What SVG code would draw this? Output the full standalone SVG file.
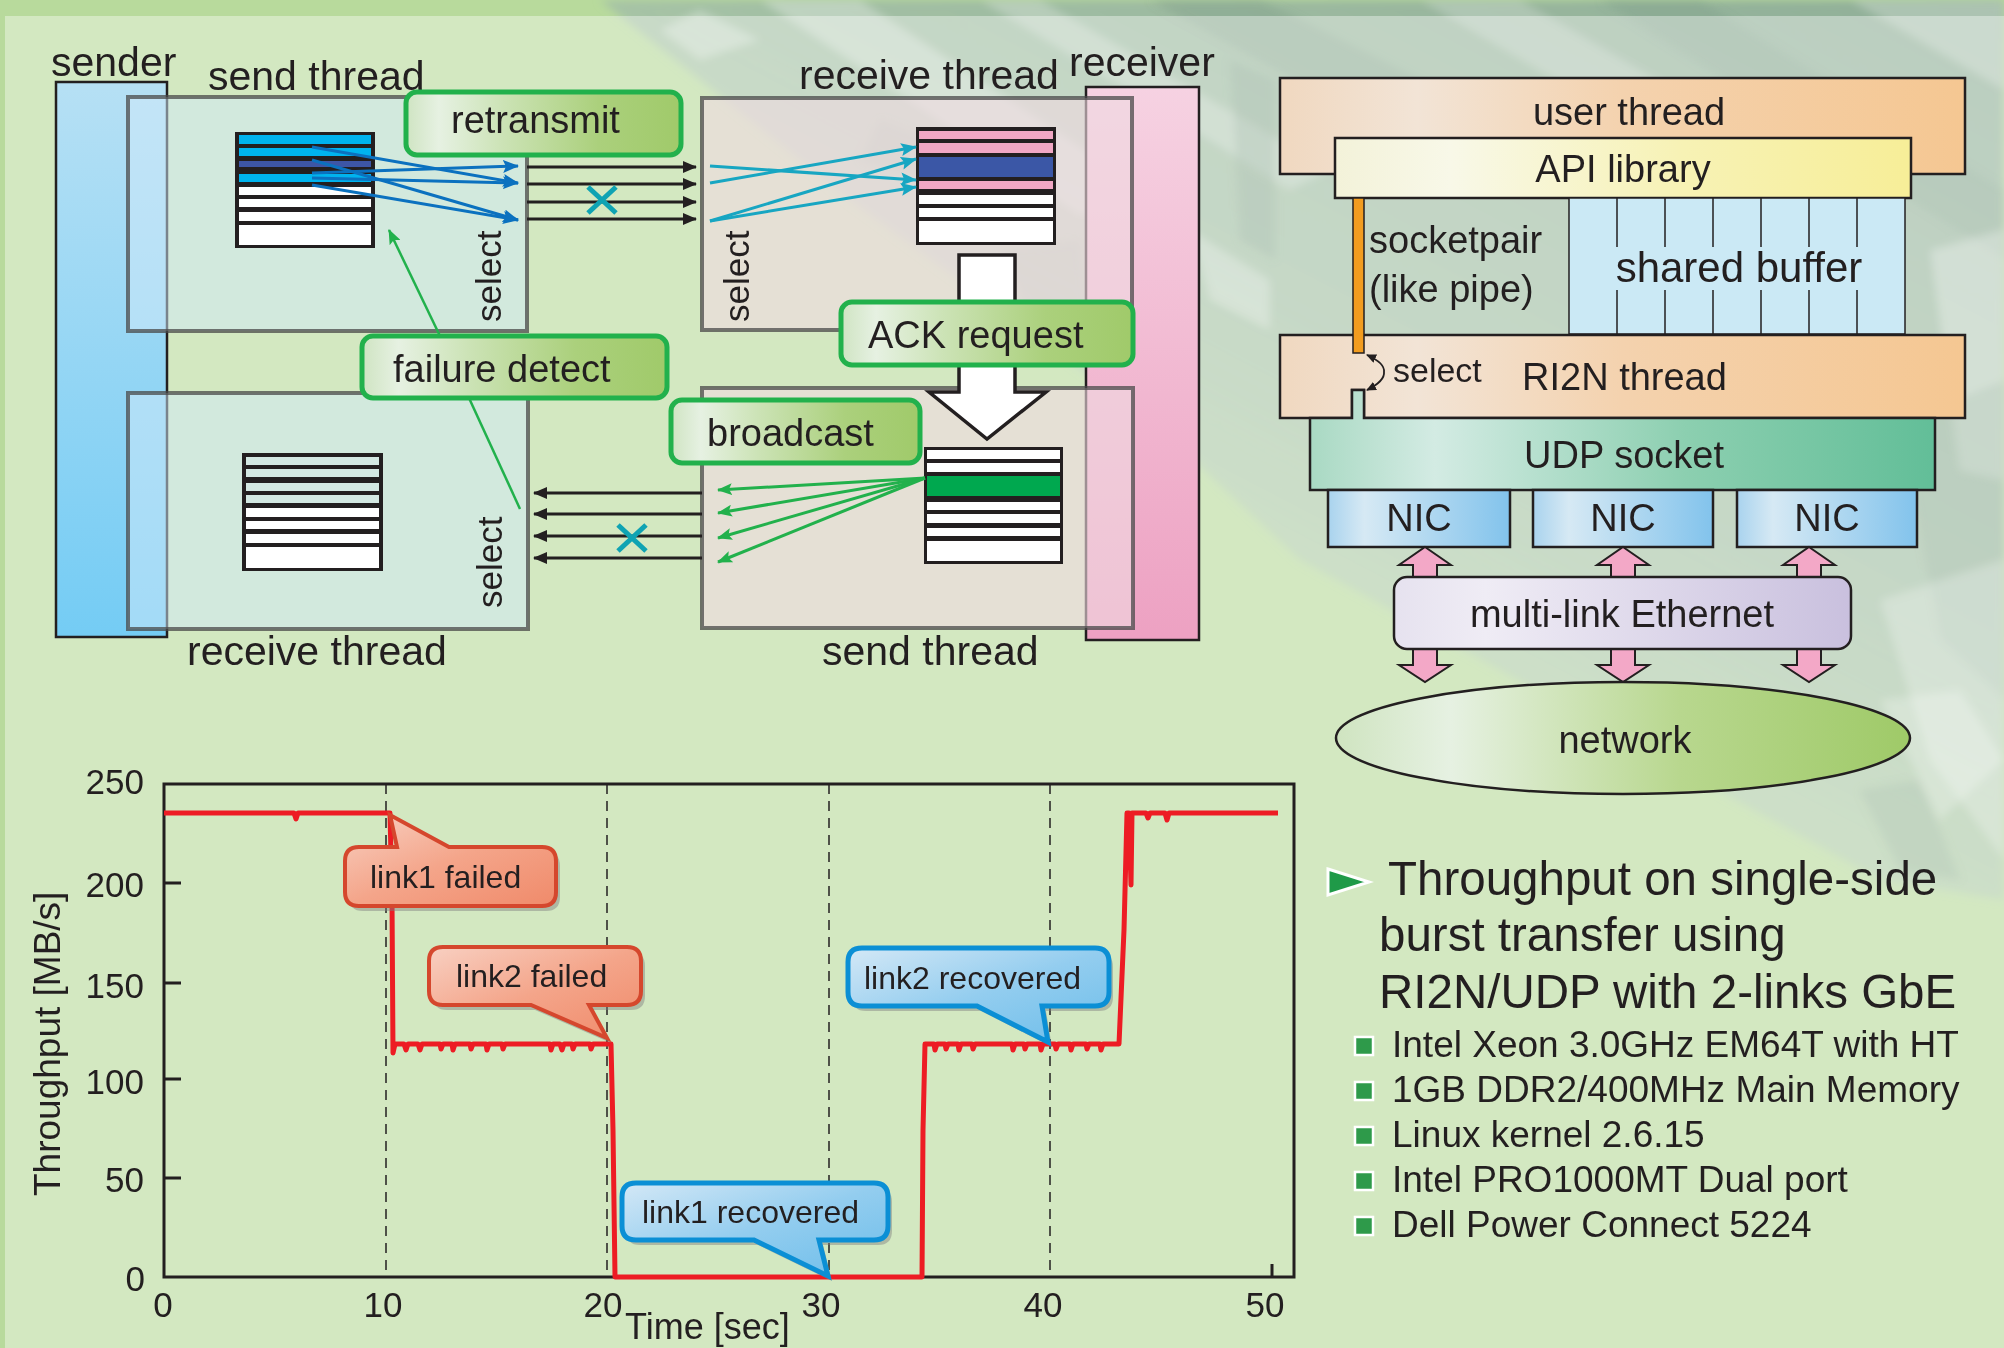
<svg xmlns="http://www.w3.org/2000/svg" width="2004" height="1348" viewBox="0 0 2004 1348">
<style>
  text { font-family: "Liberation Sans", Arial, Helvetica, sans-serif; fill: #231f20; }
  .lbl { font-size: 41px; }
  .tag { font-size: 38px; }
  .sel { font-size: 35px; }
  .arch { font-size: 38px; }
  .tick { font-size: 35px; }
  .call { font-size: 32px; }
  .head { font-size: 47.5px; }
  .item { font-size: 37px; }
  .thrB { fill: #d2e9f9; fill-opacity: .5; stroke: #4a4a4a; stroke-opacity: .75; stroke-width: 4; }
  .thrP { fill: #f0dae1; fill-opacity: .6; stroke: #4a4a4a; stroke-opacity: .75; stroke-width: 4; }
  .gbox { fill: url(#gGreen); stroke: #22b14c; stroke-width: 5; }
  .edge { stroke: #231f20; stroke-width: 2.5; }
  .wireL { fill: none; stroke: #231f20; stroke-width: 3; marker-end: url(#mBlack); }
  .blue { fill: none; stroke: #0b71bf; stroke-width: 3; marker-end: url(#mBlue); }
  .teal { fill: none; stroke: #17a6c2; stroke-width: 3; marker-end: url(#mTeal); }
  .grn { fill: none; stroke: #22b14c; stroke-width: 3; marker-end: url(#mGreen); }
  .xm { fill: none; stroke: #0fa3b3; stroke-width: 5; }
  .pk { fill: #f3a8c7; stroke: #231f20; stroke-width: 2; }
  .dash { stroke: #231f20; stroke-width: 1.5; stroke-dasharray: 10 7; }
  .red { fill: none; stroke: #ed1c24; stroke-width: 5; stroke-linejoin: round; }
  .cR { fill: url(#gRed); stroke: #d5472d; stroke-width: 4; }
  .cB { fill: url(#gBlue); stroke: #0b8fd5; stroke-width: 5; }
  .shadow { fill: #7f7f7f; opacity: .45; }
  .lite { fill: #ffffff; }
  .dark { fill: #7c9c86; }
</style>
<defs>
  <linearGradient id="gGreen" x1="0" y1="0" x2="1" y2="0">
    <stop offset="0" stop-color="#cfe4c2"/>
    <stop offset="0.12" stop-color="#e6f1e2"/>
    <stop offset="0.35" stop-color="#cce3b6"/>
    <stop offset="0.7" stop-color="#abd07c"/>
    <stop offset="1" stop-color="#a0ca6a"/>
  </linearGradient>
  <linearGradient id="gSender" x1="0" y1="0" x2="0" y2="1">
    <stop offset="0" stop-color="#b6e0f4"/>
    <stop offset="1" stop-color="#74ccf4"/>
  </linearGradient>
  <linearGradient id="gReceiver" x1="0" y1="0" x2="0" y2="1">
    <stop offset="0" stop-color="#f6d2e2"/>
    <stop offset="1" stop-color="#eda1c2"/>
  </linearGradient>
  <linearGradient id="gPeach" x1="0" y1="0" x2="1" y2="0">
    <stop offset="0" stop-color="#f0d8c0"/>
    <stop offset="0.2" stop-color="#f2e4d6"/>
    <stop offset="0.5" stop-color="#f4d2ae"/>
    <stop offset="1" stop-color="#f5c792"/>
  </linearGradient>
  <linearGradient id="gYellow" x1="0" y1="0" x2="1" y2="0">
    <stop offset="0" stop-color="#f3f2d9"/>
    <stop offset="0.2" stop-color="#f8f8e8"/>
    <stop offset="0.6" stop-color="#f7f2b5"/>
    <stop offset="1" stop-color="#f7ee98"/>
  </linearGradient>
  <linearGradient id="gTeal" x1="0" y1="0" x2="1" y2="0">
    <stop offset="0" stop-color="#a9d9c3"/>
    <stop offset="0.2" stop-color="#d3ebe3"/>
    <stop offset="0.6" stop-color="#8ccfb0"/>
    <stop offset="1" stop-color="#62be98"/>
  </linearGradient>
  <linearGradient id="gNic" x1="0" y1="0" x2="1" y2="0">
    <stop offset="0" stop-color="#a9d3ee"/>
    <stop offset="0.2" stop-color="#d6e9f4"/>
    <stop offset="1" stop-color="#82c3ec"/>
  </linearGradient>
  <linearGradient id="gLav" x1="0" y1="0" x2="1" y2="0">
    <stop offset="0" stop-color="#e6e2ef"/>
    <stop offset="0.2" stop-color="#efecf5"/>
    <stop offset="1" stop-color="#c9c0de"/>
  </linearGradient>
  <linearGradient id="gNet" x1="0" y1="0" x2="1" y2="0">
    <stop offset="0" stop-color="#cfe4c0"/>
    <stop offset="0.2" stop-color="#e6f1e2"/>
    <stop offset="0.6" stop-color="#b8d78e"/>
    <stop offset="1" stop-color="#9fca68"/>
  </linearGradient>
  <linearGradient id="gRed" x1="0" y1="0" x2="1" y2="1">
    <stop offset="0" stop-color="#f8d0c2"/>
    <stop offset="0.5" stop-color="#f4a58a"/>
    <stop offset="1" stop-color="#f08a6a"/>
  </linearGradient>
  <linearGradient id="gBlue" x1="0" y1="0" x2="1" y2="1">
    <stop offset="0" stop-color="#d4e8f6"/>
    <stop offset="0.5" stop-color="#93cdef"/>
    <stop offset="1" stop-color="#6cbdea"/>
  </linearGradient>
  <linearGradient id="gTex" x1="1" y1="0" x2="0.35" y2="0.8">
    <stop offset="0" stop-color="#8dac97" stop-opacity="0.95"/>
    <stop offset="0.55" stop-color="#9fbba6" stop-opacity="0.85"/>
    <stop offset="1" stop-color="#b3cdb1" stop-opacity="0.45"/>
  </linearGradient>
  <filter id="soft" x="-5%" y="-5%" width="110%" height="110%">
    <feGaussianBlur stdDeviation="4"/>
  </filter>
  <marker id="mBlack" markerUnits="userSpaceOnUse" markerWidth="14" markerHeight="12" refX="13" refY="6" orient="auto">
    <path d="M0,0 L14,6 L0,12 Z" fill="#231f20"/>
  </marker>
  <marker id="mBlue" markerUnits="userSpaceOnUse" markerWidth="16" markerHeight="13" refX="15" refY="6.5" orient="auto">
    <path d="M0,0 L16,6.5 L0,13 L3,6.5 Z" fill="#0b71bf"/>
  </marker>
  <marker id="mTeal" markerUnits="userSpaceOnUse" markerWidth="16" markerHeight="13" refX="15" refY="6.5" orient="auto">
    <path d="M0,0 L16,6.5 L0,13 L3,6.5 Z" fill="#17a6c2"/>
  </marker>
  <marker id="mGreen" markerUnits="userSpaceOnUse" markerWidth="15" markerHeight="12" refX="14" refY="6" orient="auto">
    <path d="M0,0 L15,6 L0,12 L3,6 Z" fill="#22b14c"/>
  </marker>
  <marker id="mSmall" markerUnits="userSpaceOnUse" markerWidth="10" markerHeight="9" refX="9" refY="4.5" orient="auto-start-reverse">
    <path d="M0,0 L10,4.5 L0,9 Z" fill="#231f20"/>
  </marker>
</defs>

<!-- page background with textured upper-right area -->
<g id="background">
  <rect x="0" y="0" width="2004" height="1348" fill="#b8da9c"/>
  <polygon points="600,0 2004,0 2004,900 1880,880 1300,560 1150,420 850,200" fill="url(#gTex)" filter="url(#soft)"/>
  <g filter="url(#soft)">
    <polygon class="lite" opacity="0.3" points="760,0 860,0 1160,200 1080,215"/>
    <polygon class="lite" opacity="0.25" points="980,0 1040,0 1330,170 1290,190"/>
    <polygon class="dark" opacity="0.35" points="1150,0 1260,0 1500,120 1420,150"/>
    <polygon class="lite" opacity="0.22" points="1420,0 1520,0 1760,140 1690,160"/>
    <polygon class="dark" opacity="0.3" points="1600,0 1700,0 2004,190 2004,260"/>
    <polygon class="lite" opacity="0.25" points="1850,0 2004,0 2004,90"/>
    <polygon class="lite" opacity="0.3" points="1930,250 2004,230 2004,480 1960,470"/>
    <polygon class="dark" opacity="0.3" points="1900,420 2004,380 2004,700 1940,640"/>
    <polygon class="lite" opacity="0.25" points="1880,600 2004,560 2004,860 1930,760"/>
    <polygon class="lite" opacity="0.3" points="700,10 760,40 700,60 660,30"/>
    <polygon class="dark" opacity="0.3" points="880,120 960,150 930,180 860,160"/>
    <polygon class="dark" opacity="0.35" points="1230,60 1275,80 1275,260 1240,240"/>
    <polygon class="lite" opacity="0.28" points="1190,230 1270,280 1270,330 1210,300"/>
    <polygon class="dark" opacity="0.3" points="1000,250 1080,240 1090,330 1040,340"/>
    <polygon class="lite" opacity="0.25" points="1880,700 1960,690 2004,760 1940,820"/>
    <polygon class="dark" opacity="0.3" points="1860,790 1920,780 1960,880 1900,870"/>
  </g>
  <rect x="5" y="16" width="1999" height="1332" fill="#ffffff" opacity="0.38"/>
</g>

<!-- sender / receiver hosts -->
<g id="sender">
  <rect x="56" y="82" width="111" height="555" fill="url(#gSender)" class="edge"/>
  <text class="lbl" x="51" y="76">sender</text>
</g>
<g id="receiver">
  <rect x="1086" y="87" width="113" height="553" fill="url(#gReceiver)" class="edge"/>
  <text class="lbl" x="1069" y="76">receiver</text>
</g>

<!-- sender: send thread -->
<g id="send-thread-s">
  <rect x="128" y="97" width="399" height="234" class="thrB"/>
  <text class="lbl" x="208" y="90">send thread</text>
  <rect x="235" y="132" width="140" height="116" fill="#231f20"/>
  <rect x="239" y="135" width="132" height="9" fill="#00b3ee"/>
  <rect x="239" y="148" width="132" height="8" fill="#00b3ee"/>
  <rect x="239" y="161" width="132" height="6" fill="#3d56a6"/>
  <rect x="239" y="174" width="132" height="8" fill="#00b3ee"/>
  <rect x="239" y="187" width="132" height="8" fill="#ffffff"/>
  <rect x="239" y="199" width="132" height="8" fill="#ffffff"/>
  <rect x="239" y="212" width="132" height="9" fill="#ffffff"/>
  <rect x="239" y="225" width="132" height="20" fill="#ffffff"/>
  <text class="sel" transform="translate(501,322) rotate(-90)">select</text>
</g>

<!-- sender: receive thread -->
<g id="receive-thread-s">
  <rect x="128" y="393" width="400" height="236" class="thrB"/>
  <text class="lbl" x="187" y="665">receive thread</text>
  <rect x="242" y="453" width="141" height="118" fill="#231f20"/>
  <rect x="246" y="457" width="133" height="8" fill="#d3e8e2"/>
  <rect x="246" y="469" width="133" height="8" fill="#d3e8e2"/>
  <rect x="246" y="483" width="133" height="8" fill="#d3e8e2"/>
  <rect x="246" y="495" width="133" height="8" fill="#d3e8e2"/>
  <rect x="246" y="508" width="133" height="9" fill="#ffffff"/>
  <rect x="246" y="521" width="133" height="8" fill="#ffffff"/>
  <rect x="246" y="534" width="133" height="9" fill="#ffffff"/>
  <rect x="246" y="547" width="133" height="21" fill="#ffffff"/>
  <text class="sel" transform="translate(502,608) rotate(-90)">select</text>
</g>

<!-- receiver: receive thread -->
<g id="receive-thread-r">
  <rect x="702" y="98" width="430" height="232" class="thrP"/>
  <text class="lbl" x="799" y="89">receive thread</text>
  <rect x="916" y="127" width="140" height="118" fill="#231f20"/>
  <rect x="919" y="131" width="134" height="8" fill="#f1a7c4"/>
  <rect x="919" y="143" width="134" height="10" fill="#f1a7c4"/>
  <rect x="919" y="157" width="134" height="20" fill="#3b57a6"/>
  <rect x="919" y="181" width="134" height="8" fill="#f1a7c4"/>
  <rect x="919" y="195" width="134" height="9" fill="#ffffff"/>
  <rect x="919" y="208" width="134" height="9" fill="#ffffff"/>
  <rect x="919" y="221" width="134" height="21" fill="#ffffff"/>
  <text class="sel" transform="translate(749,322) rotate(-90)">select</text>
</g>

<!-- receiver: send thread -->
<g id="send-thread-r">
  <rect x="702" y="388" width="431" height="240" class="thrP"/>
  <text class="lbl" x="822" y="665">send thread</text>
  <rect x="924" y="447" width="139" height="117" fill="#231f20"/>
  <rect x="927" y="450" width="133" height="9" fill="#ffffff"/>
  <rect x="927" y="463" width="133" height="9" fill="#ffffff"/>
  <rect x="927" y="476" width="133" height="20" fill="#00a84f"/>
  <rect x="927" y="502" width="133" height="8" fill="#ffffff"/>
  <rect x="927" y="514" width="133" height="9" fill="#ffffff"/>
  <rect x="927" y="528" width="133" height="8" fill="#ffffff"/>
  <rect x="927" y="541" width="133" height="20" fill="#ffffff"/>
</g>

<!-- ACK hand-over arrow between receiver threads -->
<g id="ack-arrow">
  <polygon points="959,255 1015,255 1015,392 1046,392 987,439 929,392 959,392" fill="#ffffff" stroke="#231f20" stroke-width="3.5" stroke-linejoin="miter"/>
</g>

<!-- links, data flow and control arrows -->
<g id="connectors">
  <path class="wireL" d="M527,167 H696"/>
  <path class="wireL" d="M527,184 H696"/>
  <path class="wireL" d="M527,202 H696"/>
  <path class="wireL" d="M527,219 H696"/>
  <path class="wireL" d="M702,493 H534"/>
  <path class="wireL" d="M702,514 H534"/>
  <path class="wireL" d="M702,536 H534"/>
  <path class="wireL" d="M702,558 H534"/>
  <path class="xm" d="M588,187 L616,213 M616,187 L588,213"/>
  <path class="xm" d="M618,525 L646,551 M646,525 L618,551"/>
  <path class="blue" d="M312,147 L518,183"/>
  <path class="blue" d="M312,160 L518,220"/>
  <path class="blue" d="M312,173 L518,166"/>
  <path class="blue" d="M312,178 L518,183"/>
  <path class="blue" d="M312,185 L518,220"/>
  <path class="teal" d="M710,166 L916,180"/>
  <path class="teal" d="M710,183 L916,147"/>
  <path class="teal" d="M710,221 L916,159"/>
  <path class="teal" d="M710,221 L916,187"/>
  <path class="grn" d="M925,478 L718,490"/>
  <path class="grn" d="M925,478 L718,513"/>
  <path class="grn" d="M925,478 L718,538"/>
  <path class="grn" d="M925,478 L718,562"/>
  <path fill="none" stroke="#22b14c" stroke-width="2.5" d="M440,336 L389,230" marker-end="url(#mGreen)"/>
  <path fill="none" stroke="#22b14c" stroke-width="2.5" d="M469,398 L520,509"/>
</g>

<!-- mechanism labels -->
<g id="retransmit">
  <rect x="406" y="92" width="275" height="63" rx="11" class="gbox"/>
  <text class="tag" x="451" y="133">retransmit</text>
</g>
<g id="failure-detect">
  <rect x="362" y="336" width="305" height="62" rx="11" class="gbox"/>
  <text class="tag" x="393" y="382">failure detect</text>
</g>
<g id="ack-request">
  <rect x="841" y="302" width="292" height="63" rx="11" class="gbox"/>
  <text class="tag" x="868" y="348">ACK request</text>
</g>
<g id="broadcast">
  <rect x="671" y="400" width="249" height="63" rx="11" class="gbox"/>
  <text class="tag" x="707" y="446">broadcast</text>
</g>

<!-- RI2N software stack -->
<g id="user-thread">
  <rect x="1280" y="78" width="685" height="96" fill="url(#gPeach)" class="edge"/>
  <text class="arch" x="1629" y="125" text-anchor="middle">user thread</text>
</g>
<g id="api-library">
  <rect x="1335" y="138" width="576" height="60" fill="url(#gYellow)" class="edge"/>
  <text class="arch" x="1623" y="182" text-anchor="middle">API library</text>
</g>
<g id="shared-buffer">
  <rect x="1569" y="198" width="336" height="136" fill="#cbe9f5" stroke="#231f20" stroke-width="1.5"/>
  <path stroke="#231f20" stroke-width="1.5" d="M1617,198 V247 M1665,198 V247 M1713,198 V247 M1761,198 V247 M1809,198 V247 M1857,198 V247 M1617,290 V334 M1665,290 V334 M1713,290 V334 M1761,290 V334 M1809,290 V334 M1857,290 V334"/>
  <text class="arch" x="1739" y="282" text-anchor="middle" style="font-size:42px">shared buffer</text>
</g>
<g id="ri2n-thread">
  <path d="M1280,335 H1965 V418 H1364 V390 H1352 V418 H1280 Z" fill="url(#gPeach)" class="edge"/>
  <text class="arch" x="1522" y="390">RI2N thread</text>
  <text class="arch" x="1393" y="382" style="font-size:34px">select</text>
  <path d="M1367,355 Q1385,363 1384,372 Q1385,381 1367,390" fill="none" stroke="#231f20" stroke-width="1.8" marker-start="url(#mSmall)" marker-end="url(#mSmall)"/>
</g>
<g id="socketpair">
  <rect x="1353" y="198" width="11" height="155" fill="#f29c1f" stroke="#231f20" stroke-width="1.5"/>
  <text class="arch" x="1369" y="253">socketpair</text>
  <text class="arch" x="1369" y="302">(like pipe)</text>
</g>
<g id="udp-socket">
  <path d="M1310,418 H1352 V390 H1364 V418 H1935 V490 H1310 Z" fill="url(#gTeal)" class="edge"/>
  <text class="arch" x="1624" y="468" text-anchor="middle">UDP socket</text>
</g>
<g id="nic-1">
  <rect x="1328" y="490" width="182" height="57" fill="url(#gNic)" class="edge"/>
  <text class="arch" x="1419" y="531" text-anchor="middle">NIC</text>
</g>
<g id="nic-2">
  <rect x="1533" y="490" width="180" height="57" fill="url(#gNic)" class="edge"/>
  <text class="arch" x="1623" y="531" text-anchor="middle">NIC</text>
</g>
<g id="nic-3">
  <rect x="1737" y="490" width="180" height="57" fill="url(#gNic)" class="edge"/>
  <text class="arch" x="1827" y="531" text-anchor="middle">NIC</text>
</g>
<g id="link-arrows">
  <path class="pk" d="M1425,547 L1451,565 H1437 V578 H1413 V565 H1399 Z"/>
  <path class="pk" d="M1623,547 L1649,565 H1635 V578 H1611 V565 H1597 Z"/>
  <path class="pk" d="M1809,547 L1835,565 H1821 V578 H1797 V565 H1783 Z"/>
  <path class="pk" d="M1413,648 H1437 V665 H1451 L1425,682 L1399,665 H1413 Z"/>
  <path class="pk" d="M1611,648 H1635 V665 H1649 L1623,682 L1597,665 H1611 Z"/>
  <path class="pk" d="M1797,648 H1821 V665 H1835 L1809,682 L1783,665 H1797 Z"/>
</g>
<g id="multi-link-ethernet">
  <rect x="1394" y="577" width="457" height="72" rx="13" fill="url(#gLav)" class="edge"/>
  <text class="arch" x="1622" y="627" text-anchor="middle">multi-link Ethernet</text>
</g>
<g id="network">
  <ellipse cx="1623" cy="738" rx="287" ry="56" fill="url(#gNet)" class="edge"/>
  <text class="arch" x="1625" y="753" text-anchor="middle">network</text>
</g>

<!-- throughput plot -->
<g id="chart">
  <path class="dash" d="M386,784 V1277 M607,784 V1277 M829,784 V1277 M1050,784 V1277"/>
  <rect x="164" y="784" width="1130" height="493" fill="none" stroke="#231f20" stroke-width="3"/>
  <path stroke="#231f20" stroke-width="3" d="M164,883 H181 M164,983 H181 M164,1079 H181 M164,1178 H181 M1272,1277 V1264"/>
  <g class="tick" text-anchor="end">
    <text x="144" y="794">250</text>
    <text x="144" y="897">200</text>
    <text x="144" y="998">150</text>
    <text x="144" y="1094">100</text>
    <text x="144" y="1192">50</text>
    <text x="145" y="1291">0</text>
  </g>
  <g class="tick" text-anchor="middle">
    <text x="163" y="1317">0</text>
    <text x="383" y="1317">10</text>
    <text x="603" y="1317">20</text>
    <text x="821" y="1317">30</text>
    <text x="1043" y="1317">40</text>
    <text x="1265" y="1317">50</text>
  </g>
  <text x="625" y="1339" style="font-size:36px">Time [sec]</text>
  <text transform="translate(60,1196) rotate(-90)" style="font-size:37px">Throughput [MB/s]</text>
  <path class="red" d="M164,813 H294 L296,819 L298,813 H390 L392,900 L393,1053 L395,1044 H404 L406,1050 L408,1044 H418 L420,1050 L422,1044 H440 L441,1049 L443,1044 H452 L453,1050 L455,1044 H470 L471,1049 L473,1044 H486 L487,1050 L489,1044 H502 L503,1049 L505,1044 H550 L551,1050 L553,1044 H560 L562,1050 L564,1044 H572 L573,1049 L575,1044 H590 L591,1049 L593,1044 H611 L613,1130 L615,1277 H922 L923,1130 L925,1044 H934 L935,1050 L937,1044 H945 L946,1049 L948,1044 H958 L959,1050 L961,1044 H972 L973,1049 L975,1044 H1012 L1013,1050 L1015,1044 H1024 L1025,1049 L1027,1044 H1040 L1041,1050 L1043,1044 H1055 L1056,1049 L1058,1044 H1070 L1071,1050 L1073,1044 H1086 L1087,1049 L1089,1044 H1100 L1101,1050 L1103,1044 H1119 L1124,930 L1127,813 H1129 L1131,885 L1132,813 H1146 L1148,818 L1150,813 H1165 L1167,820 L1169,813 H1278"/>
</g>

<!-- event call-outs on the plot -->
<g id="callout-link1-failed">
  <path class="shadow" transform="translate(4,5)" d="M359,847 H397 L390,815 L449,847 H542 Q556,847 556,861 V892 Q556,906 542,906 H359 Q345,906 345,892 V861 Q345,847 359,847 Z"/>
  <path class="cR" d="M359,847 H397 L390,815 L449,847 H542 Q556,847 556,861 V892 Q556,906 542,906 H359 Q345,906 345,892 V861 Q345,847 359,847 Z"/>
  <text class="call" x="370" y="888">link1 failed</text>
</g>
<g id="callout-link2-failed">
  <path class="shadow" transform="translate(4,5)" d="M443,947 H627 Q641,947 641,961 V991 Q641,1005 627,1005 H589 L607,1038 L531,1005 H443 Q429,1005 429,991 V961 Q429,947 443,947 Z"/>
  <path class="cR" d="M443,947 H627 Q641,947 641,961 V991 Q641,1005 627,1005 H589 L607,1038 L531,1005 H443 Q429,1005 429,991 V961 Q429,947 443,947 Z"/>
  <text class="call" x="456" y="987">link2 failed</text>
</g>
<g id="callout-link1-recovered">
  <path class="shadow" transform="translate(4,5)" d="M636,1183 H874 Q888,1183 888,1197 V1226 Q888,1240 874,1240 H819 L828,1276 L754,1240 H636 Q622,1240 622,1226 V1197 Q622,1183 636,1183 Z"/>
  <path class="cB" d="M636,1183 H874 Q888,1183 888,1197 V1226 Q888,1240 874,1240 H819 L828,1276 L754,1240 H636 Q622,1240 622,1226 V1197 Q622,1183 636,1183 Z"/>
  <text class="call" x="642" y="1223">link1 recovered</text>
</g>
<g id="callout-link2-recovered">
  <path class="shadow" transform="translate(4,5)" d="M862,948 H1095 Q1109,948 1109,962 V992 Q1109,1006 1095,1006 H1042 L1048,1042 L977,1006 H862 Q848,1006 848,992 V962 Q848,948 862,948 Z"/>
  <path class="cB" d="M862,948 H1095 Q1109,948 1109,962 V992 Q1109,1006 1095,1006 H1042 L1048,1042 L977,1006 H862 Q848,1006 848,992 V962 Q848,948 862,948 Z"/>
  <text class="call" x="864" y="989">link2 recovered</text>
</g>

<!-- experiment notes -->
<g id="notes">
  <polygon points="1328,869 1369,882 1328,895" fill="#1f9a48" stroke="#ffffff" stroke-width="3"/>
  <text class="head" x="1388" y="895">Throughput on single-side</text>
  <text class="head" x="1379" y="951">burst transfer using</text>
  <text class="head" x="1379" y="1008">RI2N/UDP with 2-links GbE</text>
  <g fill="#2e9a4a" stroke="#ffffff" stroke-width="2.5">
    <rect x="1355" y="1037" width="18" height="18"/>
    <rect x="1355" y="1082" width="18" height="18"/>
    <rect x="1355" y="1127" width="18" height="18"/>
    <rect x="1355" y="1172" width="18" height="18"/>
    <rect x="1355" y="1217" width="18" height="18"/>
  </g>
  <text class="item" x="1392" y="1057">Intel Xeon 3.0GHz EM64T with HT</text>
  <text class="item" x="1392" y="1102">1GB DDR2/400MHz Main Memory</text>
  <text class="item" x="1392" y="1147">Linux kernel 2.6.15</text>
  <text class="item" x="1392" y="1192">Intel PRO1000MT Dual port</text>
  <text class="item" x="1392" y="1237">Dell Power Connect 5224</text>
</g>
</svg>
